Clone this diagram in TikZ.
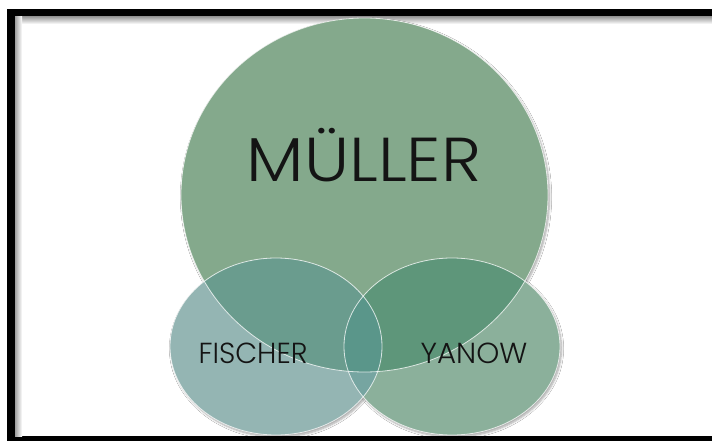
\documentclass[tikz,border=0pt]{standalone}
\usepackage{fontspec}
\setmainfont{Poppins Light}
\usetikzlibrary{shadows.blur}

\definecolor{cM}{HTML}{84A98C}
\definecolor{cF}{HTML}{94B5B3}
\definecolor{cY}{HTML}{8BB09B}
\definecolor{cMF}{HTML}{6A9C8E}
\definecolor{cMY}{HTML}{5E967A}
\definecolor{cFY}{HTML}{76A5A1}
\definecolor{cMFY}{HTML}{5A968A}

% the three sets
\newcommand\setM{(364.5,195) ellipse [x radius=183.5, y radius=177]}
\newcommand\setF{(276,346.5) ellipse [x radius=106, y radius=88.5]}
\newcommand\setY{(452,346.5) ellipse [x radius=108, y radius=88.5]}

\tikzset{
  setshadow/.style={blur shadow={shadow xshift=1.5pt, shadow yshift=-2pt,
      shadow blur steps=6, shadow opacity=35}},
  rim/.style={draw=white, line width=0.8pt, draw opacity=0.75},
  biglabel/.style={anchor=base, font=\fontsize{62}{62}\selectfont, text=black!92, xscale=1.1},
  smalllabel/.style={anchor=base, font=\fontsize{29}{29}\selectfont, text=black!92},
}

\begin{document}
\begin{tikzpicture}[x=1pt,y=-1pt]
\useasboundingbox (0,0) rectangle (712,441);

% frame with inner shadow
\fill[black] (7,9) rectangle (712,441);
\fill[white] (15,17) rectangle (712,436);
\shade[top color=black!38, bottom color=white] (15,17) rectangle (712,24);
\shade[left color=black!38, right color=white] (15,17) rectangle (22,436);

% drop shadows
\path[setshadow] \setM;
\path[setshadow] \setF;
\path[setshadow] \setY;

% plain regions
\fill[cM] \setM;
\fill[cF] \setF;
\fill[cY] \setY;

% overlaps
\begin{scope}
  \clip \setM;
  \fill[cMF] \setF;
  \fill[cMY] \setY;
\end{scope}
\begin{scope}
  \clip \setF;
  \fill[cFY] \setY;
  \clip \setM;
  \fill[cMFY] \setY;
\end{scope}

% rims
\path[rim] \setM;
\path[rim] \setF;
\path[rim] \setY;

% labels
\node[biglabel] (muller) at (364,182) {MÜLLER};
\node[smalllabel, xscale=0.98] (fischer) at (253,363) {FISCHER};
\node[smalllabel, xscale=1.01] (yanow) at (474,363) {YANOW};
\end{tikzpicture}
\end{document}
